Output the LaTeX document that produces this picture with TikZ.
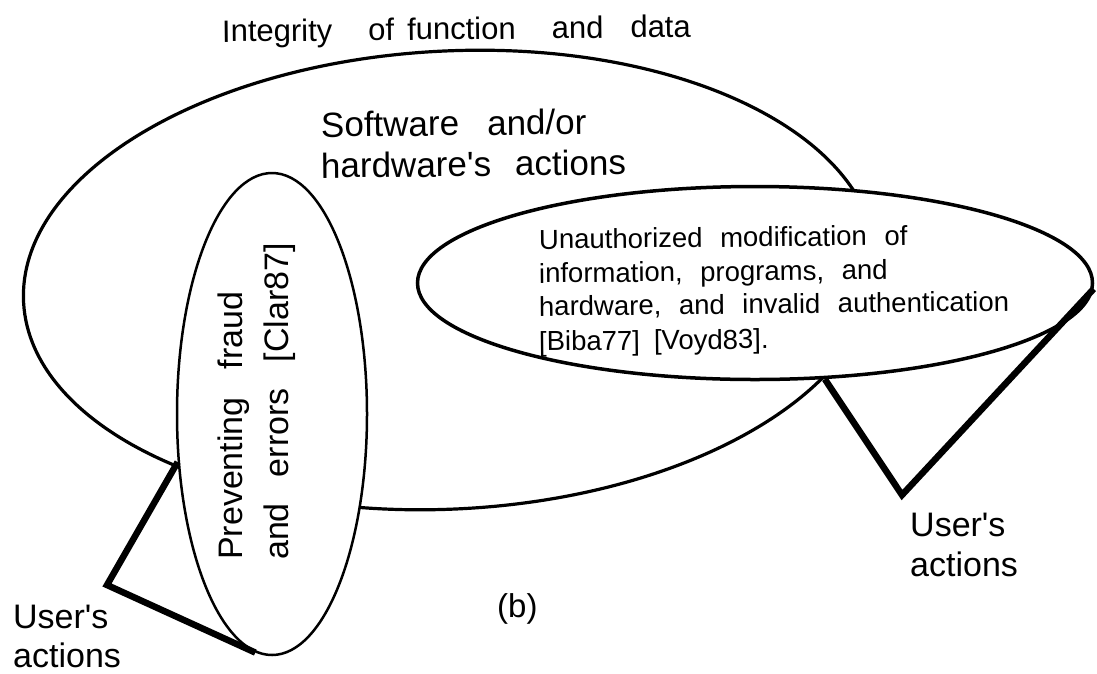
\documentclass[tikz,border=0pt]{standalone}
\usepackage{fontspec}
\setmainfont{Liberation Sans}[Ligatures=TeXOff]
\newfontfamily\midfont{Liberation Sans}[Ligatures=TeXOff, WordSpace=2.3]
\usetikzlibrary{shapes.geometric}
\begin{document}
\begin{tikzpicture}[x=1pt,y=-1pt,
  oval/.style={ellipse, draw=black, fill=white, inner sep=0pt, line width=#1},
  lbl/.style={anchor=base west, inner sep=0pt, text=black},
  userline/.style={line width=6.5pt, line join=miter, line cap=butt},
  big/.style={font=\fontsize{34}{40}\selectfont},
  mid/.style={font=\midfont\fontsize{27.5}{33}\selectfont}]
\path[fill=white] (0,0) rectangle (1097,673);
\useasboundingbox (0,0) rectangle (1097,673);
% ellipses
\node[oval=3.2pt, fill=none, minimum width=854pt, minimum height=458pt, rotate=3] (outer) at (450,280) {};
\node[oval=2.5pt, minimum width=190pt, minimum height=482pt] (small) at (272,414) {};
\node[oval=3.5pt, minimum width=675pt, minimum height=193pt] (right) at (755,283) {};
% texts
\node[lbl, rotate=0.6, font=\fontsize{31}{37}\selectfont] (title) at (222,42)
  {Integrity\hspace{36pt}of\hspace{13pt}function\hspace{36pt}and\hspace{27pt}data};
\node[lbl, rotate=0.6, font=\fontsize{35}{41}\selectfont] (sw1) at (321,137) {Software\hspace{28pt}and/or};
\node[lbl, rotate=0.6, font=\fontsize{35}{41}\selectfont] (sw2) at (321,178) {hardware's\hspace{24pt}actions};
\node[lbl, mid, rotate=0.6] (u1) at (539,249) {Unauthorized modification of};
\node[lbl, mid, rotate=0.6] (u2) at (539,283) {information, programs, and};
\node[lbl, mid, rotate=0.6] (u3) at (539,316) {hardware, and invalid authentication};
\node[lbl, mid, rotate=0.6] (u4) at (539,351) {[Biba77]\hspace{14pt}[Voyd83].};
\node[lbl, big, rotate=90] (p1) at (242,560) {Preventing\hspace{28pt}fraud};
\node[lbl, big, rotate=90] (p2) at (288,560) {and\hspace{26pt}errors\hspace{26pt}[Clar87]};
\node[lbl, big] (ur1) at (910,536) {User's};
\node[lbl, big] (ur2) at (910,576) {actions};
\node[lbl, big] (ul1) at (13,628) {User's};
\node[lbl, big] (ul2) at (13,667) {actions};
\node[lbl, font=\fontsize{33}{39}\selectfont] (lb) at (497,617) {(b)};
% user's action lines
\coordinate (rv) at (902,495);
\coordinate (lv) at (107,585);
\draw[userline] (right.-54) -- (rv) -- (right.-1.2);
\draw[userline] (small.207) -- (lv) -- (small.-94.5);
\end{tikzpicture}
\end{document}
